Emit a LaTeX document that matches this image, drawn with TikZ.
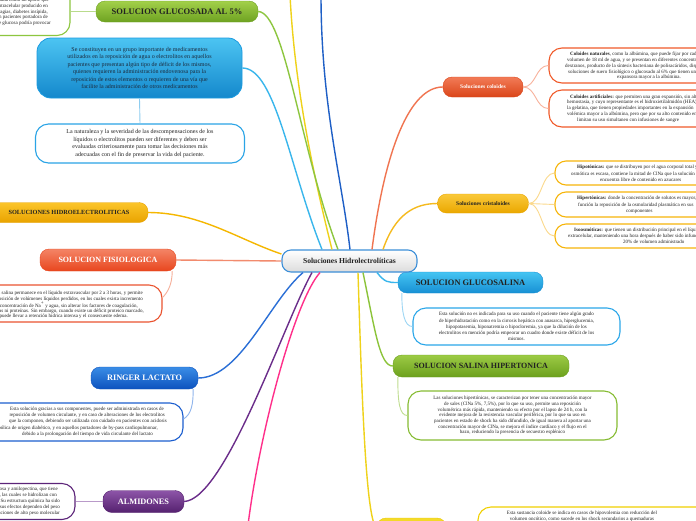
\documentclass[tikz,border=0pt]{standalone}
\usepackage{fontspec}
\setmainfont{Liberation Serif}
\newcommand{\myhs}[1]{\rule{#1}{0pt}}
\definecolor{txtc}{HTML}{222222}
\definecolor{gtop}{HTML}{A2D04A}\definecolor{gbot}{HTML}{6EA221}\definecolor{gline}{HTML}{8DC63F}\definecolor{gsub}{HTML}{B9DB8C}
\definecolor{bbtop}{HTML}{4CC4F2}\definecolor{bbbot}{HTML}{1488CC}\definecolor{bbdr}{HTML}{1B9BE0}\definecolor{wbdr}{HTML}{2AA4E6}\definecolor{bsub}{HTML}{8ECDF0}
\definecolor{otop}{HTML}{FBC52A}\definecolor{obot}{HTML}{E9A300}\definecolor{oline}{HTML}{F5B700}
\definecolor{ftop}{HTML}{F48466}\definecolor{fbot}{HTML}{E8461E}\definecolor{fline}{HTML}{F28B6E}\definecolor{fdr}{HTML}{EA5430}\definecolor{fsub}{HTML}{F6AF99}
\definecolor{rtop}{HTML}{3A8DE6}\definecolor{rbot}{HTML}{0D52BE}\definecolor{rline}{HTML}{2B6FD6}\definecolor{rdr}{HTML}{1C5FCF}\definecolor{rsub}{HTML}{8FB5EC}
\definecolor{ptop}{HTML}{8D55A8}\definecolor{pbot}{HTML}{55216F}\definecolor{pline}{HTML}{6B2D8A}\definecolor{pdr}{HTML}{5C2479}\definecolor{psub}{HTML}{B99AC9}
\definecolor{pink}{HTML}{FF2F8A}
\definecolor{ctop}{HTML}{F27B57}\definecolor{cbot}{HTML}{DA4519}\definecolor{cline}{HTML}{F07450}\definecolor{cdr}{HTML}{F05A2A}\definecolor{csub}{HTML}{F8B29C}
\definecolor{ktop}{HTML}{FAC93A}\definecolor{kbot}{HTML}{EAA700}\definecolor{kline}{HTML}{F5BA1E}\definecolor{kdr}{HTML}{F6B50A}\definecolor{ksub}{HTML}{FBD98C}
\definecolor{stop}{HTML}{45C4F2}\definecolor{sbot}{HTML}{1790D4}\definecolor{sline}{HTML}{39B6EC}\definecolor{sdr}{HTML}{2BA7E9}\definecolor{ssub}{HTML}{9DD6F4}
\definecolor{htop}{HTML}{9CCB45}\definecolor{hbot}{HTML}{6CA01D}\definecolor{hline}{HTML}{8CC43A}\definecolor{hdr}{HTML}{86BC33}\definecolor{hsub}{HTML}{BFDD90}
\definecolor{ytop}{HTML}{F4DB2C}\definecolor{ybot}{HTML}{E9C800}\definecolor{yline}{HTML}{EFD21A}\definecolor{ydr}{HTML}{F0D000}
\definecolor{dblue}{HTML}{1E5FC6}\definecolor{cnbdr}{HTML}{3D8FD8}\definecolor{cngrey}{HTML}{DCDCDC}
\definecolor{navy}{HTML}{1C2B3D}
\begin{document}
\begin{tikzpicture}[x=1pt,y=-1pt,
  pill/.style={rounded corners=9pt, minimum height=21pt, inner sep=0pt, font=\bfseries\fontsize{8.3}{9}\selectfont},
  tbox/.style={fill=white, rounded corners=13pt, line width=1.1pt, inner sep=0pt},
  txt/.style={inner sep=0pt, text=txtc, font=\fontsize{5}{5.8}\selectfont},
  main/.style={line width=1.4pt},
  sub/.style={line width=0.9pt},
]
\clip (0,0) rectangle (696,520);
\fill[white] (0,0) rectangle (696,520);

% ---------- boxes ----------
\node[tbox, draw=gline, minimum width=220pt, minimum height=48pt] (tl) at (-40,11.5) {};
\node[txt, anchor=east, align=right] (tlt) at (51,12) {usada como un aporte que\myhs{2pt}\\
del agua intracelular producido en\myhs{3pt}\\
hemorragias, diabetes insípida,\myhs{3pt}\\
en pacientes portadora de\myhs{3pt}\\
de glucosa podría provocar};

\node[rounded corners=14pt, draw=bbdr, line width=0.8pt, top color=bbtop, bottom color=bbbot, minimum width=205pt, minimum height=60pt, inner sep=0pt, align=center, text=navy, font=\fontsize{6}{7.5}\selectfont] (bb) at (139.5,68) {Se constituyen en un grupo importante de medicamentos\\
utilizados en la reposición de agua o electrolitos en aquellos\\
pacientes que presentan algún tipo de déficit de los mismos,\\
quienes requieren la administración endovenosa para la\\
reposición de estos elementos o requieren de una vía que\\
facilite la administración de otros medicamentos};

\node[tbox, draw=wbdr, minimum width=209pt, minimum height=39pt, align=center, text=txtc, font=\fontsize{6}{7.5}\selectfont] (wb) at (140,143.5) {La naturaleza y la severidad de las descompensaciones de los\\
líquidos o electrolitos pueden ser diferentes y deben ser\\
evaluadas criteriosamente para tomar las decisiones más\\
adecuadas con el fin de preservar la vida del paciente.};

\node[tbox, draw=fdr, minimum width=282pt, minimum height=37pt] (sfb) at (21,303.5) {};
\node[txt, anchor=east, align=right, font=\fontsize{5}{5.3}\selectfont] (sft) at (144,305) {La solución salina permanece en el líquido extravascular por 2 a 3 horas, y permite\myhs{1pt}\\
la reposición de volúmenes líquidos perdidos, en los cuales exista incremento\myhs{1pt}\\
de la concentración de Na\textsuperscript{+} y agua, sin alterar los factores de coagulación,\myhs{6pt}\\
plaquetas ni proteínas. Sin embargo, cuando existe un déficit proteico marcado,\\
puede llevar a retención hídrica intensa y el consecuente edema.\myhs{16pt}};

\node[tbox, draw=rdr, minimum width=293pt, minimum height=38pt] (rlb) at (36.5,422) {};
\node[txt, anchor=east, align=right, font=\fontsize{5}{6.2}\selectfont] (rlt) at (167,421.7) {Esta solución gracias a sus componentes, puede ser administrada en casos de\myhs{3pt}\\
reposición de volumen circulante, y en caso de alteraciones de los electrolitos\myhs{2pt}\\
que la componen, debiendo ser utilizada con cuidado en pacientes con acidosis\\
metabólica de origen diabético, y en aquellos portadores de by-pass cardiopulmonar,\myhs{9pt}\\
debido a la prolongación del tiempo de vida circulante del lactato\myhs{14pt}};

\node[tbox, draw=pdr, minimum width=225pt, minimum height=36pt] (alb) at (-37.5,501.5) {};
\node[txt, anchor=east, align=right, font=\fontsize{5}{6}\selectfont] (alt) at (60,501) {compuestos por amilosa y amilopectina, que tiene\myhs{2pt}\\
ramificaciones, las cuales se hidrolizan con\myhs{3pt}\\
rapidez. Su estructura química ha sido\\
modificada y sus efectos dependen del peso\\
molecular. Las soluciones de alto peso molecular};

\node[tbox, draw=cdr, minimum width=251pt, minimum height=35pt] (cb1) at (674.5,65.5) {};
\node[txt, anchor=west, align=left] (cb1t) at (565,66) {\myhs{5pt}\textbf{Coloides naturales}, como la albúmina, que puede fijar por cada gramo un\\
\myhs{2pt}volumen de 18 ml de agua, y se presentan en diferentes concentraciones\\
dextranos, producto de la síntesis bacteriana de polisacáridos, disponibles en\\
\myhs{3pt}soluciones de suero fisiológico o glucosado al 6\% que tienen una capacidad\\
\myhs{52pt}expansora mayor a la albúmina.};

\node[tbox, draw=cdr, minimum width=251pt, minimum height=37pt] (cb2) at (674.5,108.5) {};
\node[txt, anchor=west, align=left] (cb2t) at (565,108.5) {\myhs{5pt}\textbf{Coloides artificiales:} que permiten una gran expansión, sin alterar la\\
\myhs{2pt}hemostasia, y cuyo representante es el hidroxietilalmidón (HEA), o\\
\myhs{2pt}la gelatina, que tienen propiedades importantes en la expansión\\
\myhs{2pt}volémica mayor a la albúmina, pero que por su alto contenido en sodio\\
\myhs{12pt}limitan su uso simultaneo con infusiones de sangre};

\node[tbox, draw=kdr, rounded corners=11pt, minimum width=245pt, minimum height=24pt] (k1) at (677.5,173) {};
\node[txt, anchor=west, align=left, font=\fontsize{5}{6.6}\selectfont] (k1t) at (568,173.3) {\myhs{9pt}\textbf{Hipotónicas:} que se distribuyen por el agua corporal total y su capacidad\\
\myhs{3pt}osmótica es escasa, contiene la mitad de ClNa que la solución fisiológica y se\\
\myhs{32pt}encuentra libre de contenido en azucares};

\node[tbox, draw=kdr, rounded corners=11pt, minimum width=245pt, minimum height=25pt] (k2) at (677.5,204.5) {};
\node[txt, anchor=west, align=left, font=\fontsize{5}{6.3}\selectfont] (k2t) at (568,205) {\myhs{9pt}\textbf{Hipertónicas:} donde la concentración de solutos es mayor, tienen como\\
\myhs{10pt}función la reposición de la osmolaridad plasmática en sus\\
\myhs{58pt}componentes};

\node[tbox, draw=kdr, rounded corners=11pt, minimum width=245pt, minimum height=24pt] (k3) at (677.5,236) {};
\node[txt, anchor=west, align=left, font=\fontsize{5}{5.9}\selectfont] (k3t) at (568,236) {\myhs{6pt}\textbf{Isoosmóticas:} que tienen un distribución principal en el líquido\\
extracelular, manteniendo una hora después de haber sido infundida el\\
\myhs{55pt}20\% de volumen administrado};

\node[tbox, draw=sdr, minimum width=207pt, minimum height=37pt, align=center, text=txtc, font=\fontsize{5}{6.2}\selectfont] (gsb) at (516.5,326.5) {Esta solución no es indicada para su uso cuando el paciente tiene algún grado\\
de hiperhidratación como en la cirrosis hepática con anasarca, hiperglucemia,\\
hipopotasemia, hiponatremia o hipocloremia, ya que la dilución de los\\
electrolitos en mención podría empeorar un cuadro donde existe déficit de los\\
mismos.};

\node[tbox, draw=hdr, minimum width=209pt, minimum height=49pt, align=center, text=txtc, font=\fontsize{5}{5.7}\selectfont] (shb) at (512.5,415.5) {Las soluciones hipertónicas, se caracterizan por tener una concentración mayor\\
de sales (ClNa 5\%, 7,5\%), por lo que su uso, permite una reposición\\
volumétrica más rápida, manteniendo su efecto por el lapso de 24 h, con la\\
evidente mejora de la resistencia vascular periférica, por lo que su uso en\\
pacientes en estado de shock ha sido difundido, de igual manera al aportar una\\
concentración mayor de ClNa, se mejora el índice cardíaco y el flujo en el\\
bazo, reduciendo la presencia de secuestro esplénico};

\node[tbox, draw=ydr, minimum width=244pt, minimum height=56pt] (ypb) at (600,535) {};
\node[txt, align=center, font=\fontsize{5}{6}\selectfont] (ypt) at (582,516.5) {Esta sustancia coloide se indica en casos de hipovolemia con reducción del\\
volumen oncótico, como sucede en los shock secundarios a quemaduras};

% ---------- pills ----------
\node[pill, draw=gbot, line width=0.4pt, top color=gtop, bottom color=gbot, text=txtc, minimum width=162pt, font=\bfseries\fontsize{8.5}{9}\selectfont] (g5) at (177,11.5) {SOLUCION GLUCOSADA AL 5\%};
\node[pill, draw=obot, line width=0.4pt, top color=otop, bottom color=obot, text=txtc, minimum width=158pt, minimum height=20pt, font=\bfseries\fontsize{6.3}{7}\selectfont] (he) at (69,212.5) {SOLUCIONES HIDROELECTROLITICAS};
\node[pill, draw=fbot, line width=0.4pt, top color=ftop, bottom color=fbot, text=white, minimum width=136pt, minimum height=22pt, font=\bfseries\fontsize{8}{9}\selectfont] (sf) at (108,260) {SOLUCION FISIOLOGICA};
\node[pill, draw=rbot, line width=0.4pt, top color=rtop, bottom color=rbot, text=white, minimum width=107pt, minimum height=22pt] (rl) at (144.5,378) {RINGER LACTATO};
\node[pill, draw=pbot, line width=0.4pt, top color=ptop, bottom color=pbot, text=white, minimum width=81pt, minimum height=22pt] (al) at (143.5,501.5) {ALMIDONES};
\node[pill, draw=cbot, line width=0.4pt, top color=ctop, bottom color=cbot, text=white, minimum width=80pt, minimum height=20pt, font=\bfseries\fontsize{5.6}{6}\selectfont] (co) at (483,87) {Soluciones coloides};
\node[pill, draw=kbot, line width=0.4pt, top color=ktop, bottom color=kbot, text=txtc, minimum width=91pt, minimum height=19pt, font=\bfseries\fontsize{5.6}{6}\selectfont] (cr) at (483,203.5) {Soluciones cristaloides};
\node[pill, draw=sbot, line width=0.4pt, top color=stop, bottom color=sbot, text=txtc, minimum width=145pt, font=\bfseries\fontsize{8.4}{9}\selectfont] (gs) at (470.5,282.5) {SOLUCION GLUCOSALINA};
\node[pill, draw=hbot, line width=0.4pt, top color=htop, bottom color=hbot, text=txtc, minimum width=176pt, minimum height=22pt, font=\bfseries\fontsize{8}{9}\selectfont] (sh) at (481,366) {SOLUCION SALINA HIPERTONICA};
\node[pill, draw=ybot, line width=0.4pt, top color=ytop, bottom color=ybot, minimum width=69pt, minimum height=22pt] (yp) at (411.5,529) {};

% ---------- central ----------
\node[rounded corners=9pt, draw=cnbdr, line width=1.1pt, top color=white, bottom color=cngrey, minimum width=135pt, minimum height=22pt, inner sep=0pt, text=txtc, font=\bfseries\fontsize{7.6}{8}\selectfont] (c) at (349.5,261) {Soluciones Hidrolectrolíticas};

\coordinate (ty) at (290,-5);
\coordinate (tb) at (321,-5);
\coordinate (pk) at (248,525);

% ---------- main connectors ----------
\begin{scope}[on background layer/.style={}]
\end{scope}
\draw[main, sline] (bb.east) .. controls +(33,0) and +(-32,-80) .. ([xshift=-27.5pt]c.north);
\draw[main, yline] (ty) .. controls +(5,100) and +(-15,-60) .. ([xshift=-17.5pt]c.north);
\draw[main, gline] (g5.east) .. controls +(27,1) and +(-38,-100) .. ([xshift=-11.5pt]c.north);
\draw[main, dblue] (tb) .. controls +(0,110) and +(-8,-70) .. ([xshift=0.5pt]c.north);
\draw[main, oline] (he.east) .. controls +(52,0) and +(-42,-14) .. ([yshift=7pt]c.west);
\draw[main, fline] (sf.east) -- (c.west);
\draw[main, rline] ([xshift=-46.5pt]c.south) .. controls +(-33,28) and +(42,0) .. (rl.east);
\draw[main, pline] ([xshift=-37.5pt]c.south) .. controls +(-27,48) and +(41,-2) .. (al.east);
\draw[main, pink] ([xshift=-29.5pt]c.south) .. controls +(-25,28) and +(12,-95) .. (pk);
\draw[main, yline] ([xshift=8.5pt]c.south) .. controls +(4,128) and +(-11,-10) .. (yp.west);
\draw[main, hline] ([xshift=13.5pt]c.south) .. controls +(12,58) and +(-13,0) .. (sh.west);
\draw[main, sline] ([xshift=27.5pt]c.south) .. controls +(8,10) and +(-10,0) .. (gs.west);
\draw[main, cline] ([xshift=22.5pt]c.north) .. controls +(13,-100) and +(-33,0) .. (co.west);
\draw[main, kline] ([xshift=33.5pt]c.north) .. controls +(12,-35) and +(-23,0) .. (cr.west);

% ---------- sub connectors ----------
\draw[sub, gsub] (g5.west) -- (tl.east);
\draw[sub, bsub] (bb.south) -- (wb.north);
\draw[sub, psub] (al.west) -- (alb.east);
\draw[sub, fsub] ([xshift=-4pt]sf.south east) .. controls +(0,12) and +(6,-6) .. ([yshift=6pt]sfb.east);
\draw[sub, rsub] ([xshift=-5pt]rl.south east) .. controls +(0,15) and +(8,-5) .. ([yshift=3pt]rlb.east);
\draw[sub, csub] (co.east) .. controls +(13,0) and +(-13,0) .. (cb1.west);
\draw[sub, csub] (co.east) .. controls +(13,0) and +(-13,0) .. (cb2.west);
\draw[sub, ksub] (cr.east) .. controls +(13,0) and +(-13,0) .. (k1.west);
\draw[sub, ksub] (cr.east) .. controls +(13,0) and +(-13,0) .. (k2.west);
\draw[sub, ksub] (cr.east) .. controls +(13,0) and +(-13,0) .. (k3.west);
\draw[sub, ssub] ([xshift=4pt]gs.south west) .. controls +(0,20) and +(-8,0) .. (gsb.west);
\draw[sub, hsub] ([xshift=5pt]sh.south west) .. controls +(0,25) and +(-8,0) .. (shb.west);
\draw[sub, yline] (yp.east) -- (ypb.west);
\end{tikzpicture}
\end{document}
